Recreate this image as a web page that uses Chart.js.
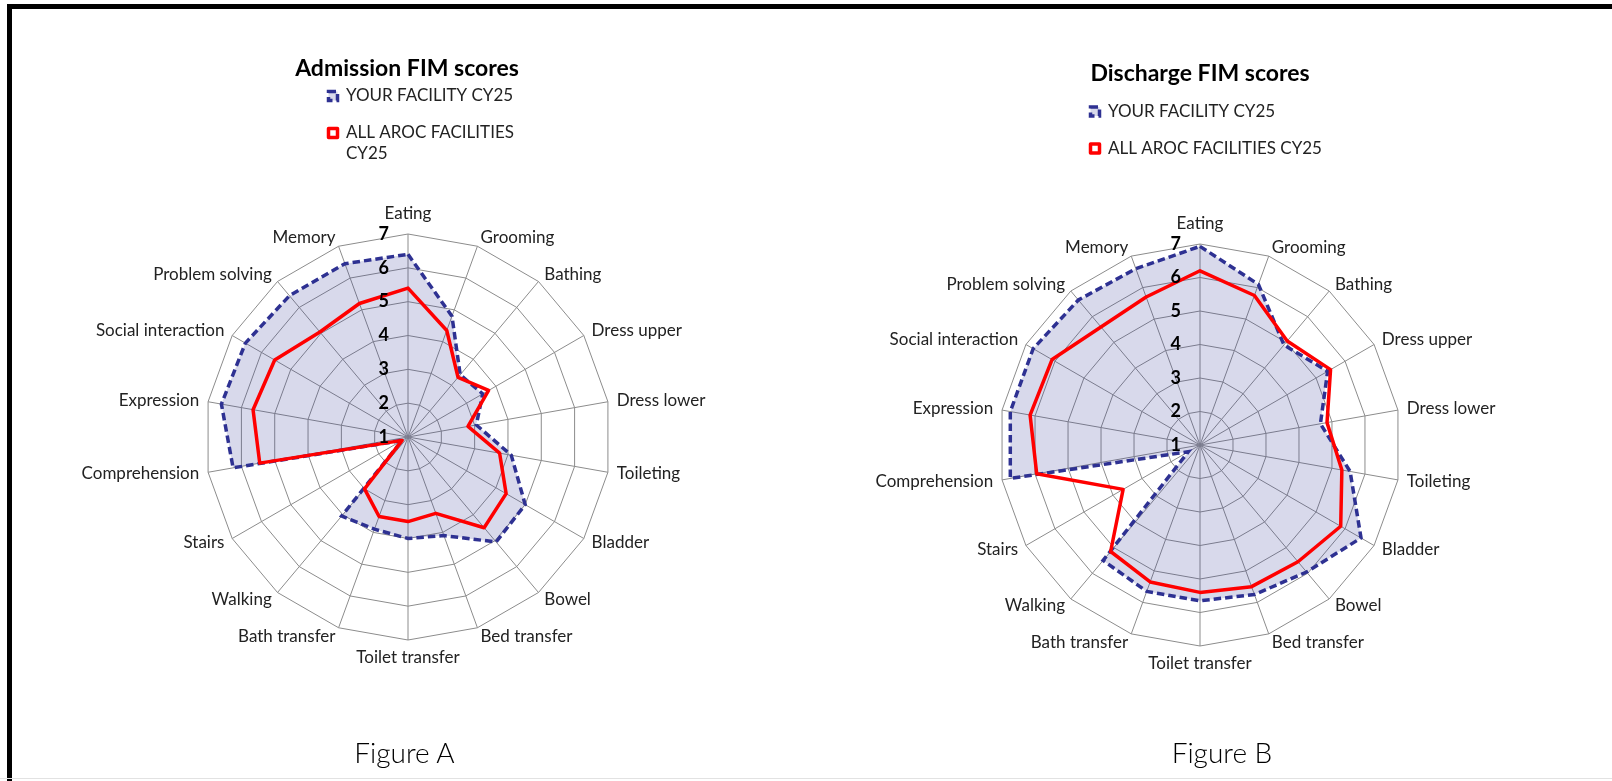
<!DOCTYPE html>
<html>
<head>
<meta charset="utf-8">
<script src="https://cdn.jsdelivr.net/npm/chart.js@4.4.1/dist/chart.umd.min.js"></script>
<style>
html,body{margin:0;padding:0;background:#fff;}
#page{position:relative;width:1612px;height:781px;overflow:hidden;background:#fff;}
#frameTop{position:absolute;left:7px;top:4px;width:1605px;height:4.5px;background:#000;}
#frameLeft{position:absolute;left:7px;top:4px;width:4.5px;height:777px;background:#000;}
#frameBottom{position:absolute;left:0;top:778px;width:1612px;height:1px;background:#e2e2e2;}
canvas{position:absolute;top:0;}
.cap{position:absolute;top:738px;height:28px;line-height:28px;font-family:Lato,"Noto Sans",sans-serif;font-weight:300;font-size:28px;color:#000;white-space:nowrap;transform:translateX(-50%);}
</style>
</head>
<body>
<div id="page">
  <div id="frameTop"></div>
  <div id="frameLeft"></div>
  <div id="frameBottom"></div>
  <canvas id="chartA" width="806" height="781" style="left:0px;width:806px;height:781px;"></canvas>
  <canvas id="chartB" width="806" height="781" style="left:806px;width:806px;height:781px;"></canvas>
  <div class="cap" id="capA"></div>
  <div class="cap" id="capB"></div>
</div>
<script>
// ---------------- DATA ----------------
const categories = ['Eating','Grooming','Bathing','Dress upper','Dress lower','Toileting','Bladder','Bowel','Bed transfer','Toilet transfer','Bath transfer','Walking','Stairs','Comprehension','Expression','Social interaction','Problem solving','Memory'];
const tickLabels = ['1','2','3','4','5','6','7'];
const seriesNames = ['YOUR FACILITY CY25','ALL AROC FACILITIES CY25'];
const chartTitles = ['Admission FIM scores','Discharge FIM scores'];
const figureCaptions = ['Figure A','Figure B'];

const admissionFacility = [6.4,4.8,3.4,3.55,3.05,4.1,5.0,5.05,4.1,4.0,3.9,4.05,1.2,6.25,6.6,6.55,6.45,6.45];
const admissionAll      = [5.4,4.35,3.3,3.75,2.8,3.75,4.35,4.5,3.4,3.5,3.5,3.0,1.2,5.45,5.65,5.55,5.05,5.2];
const dischargeFacility = [6.93,6.1,4.9,5.4,4.65,5.55,6.55,5.95,5.75,5.65,5.65,5.5,1.4,6.75,6.75,6.75,6.65,6.6];
const dischargeAll      = [6.2,5.75,5.05,5.5,4.85,5.3,5.85,5.55,5.5,5.4,5.35,5.15,3.65,5.95,6.15,6.1,5.6,5.7];

// ---------------- STYLE / LAYOUT ----------------
const FONT = 'Lato, "Noto Sans", sans-serif';
Chart.defaults.font.family = FONT;
const LEGEND_PAD = 20;
const TITLE_SIZE = 23;
const LABEL_SIZE = 17;
const TICK_SIZE = 18;

const layouts = [
  {left: 0,   cx: 408,  cy: 437, r: 203, titleX: 407,  titleY: 68.5, legendX: 328.5,  legendY: 87.5, legendWrap: 180, capX: 404.5},
  {left: 806, cx: 1200, cy: 445, r: 201, titleX: 1200, titleY: 73.7, legendX: 1090.5, legendY: 103,  legendWrap: 0,   capX: 1222}
];
const labelGeom = {pad: 9, topGap: 20, botGap: 18};

function wrapText(text, maxW) {
  if (!maxW) return text;
  const c = document.createElement('canvas').getContext('2d');
  c.font = LABEL_SIZE + 'px ' + FONT;
  const words = text.split(' ');
  const lines = [];
  let cur = '';
  words.forEach(w => {
    const t = cur ? cur + ' ' + w : w;
    if (c.measureText(t).width > maxW && cur) { lines.push(cur); cur = w; }
    else cur = t;
  });
  lines.push(cur);
  return lines.length > 1 ? lines : text;
}

function placeScale(scale, L) {
  scale.xCenter = L.cx - L.left;
  scale.yCenter = L.cy;
  scale.drawingArea = L.r;
  const n = scale._pointLabels.length;
  const lh = LABEL_SIZE * 1.2;
  const items = [];
  for (let i = 0; i < n; i++) {
    const deg = i * 360 / n;
    const p = scale.getPointPosition(i, L.r + labelGeom.pad);
    let ymid, align;
    if (Math.abs(deg) < 0.01) { align = 'center'; ymid = scale.yCenter - L.r - labelGeom.topGap; }
    else if (Math.abs(deg - 180) < 0.01) { align = 'center'; ymid = scale.yCenter + L.r + labelGeom.botGap; }
    else { align = deg < 180 ? 'left' : 'right'; ymid = p.y; }
    items.push({visible: true, x: p.x, y: ymid - lh / 2, textAlign: align,
                left: p.x, right: p.x, top: ymid - lh / 2, bottom: ymid + lh / 2});
  }
  scale._pointLabelItems = items;
}

// value-axis labels beside the vertical axis
const sideTicks = {
  id: 'sideTicks',
  afterDatasetsDraw(chart) {
    const s = chart.scales.r, ctx = chart.ctx;
    ctx.save();
    ctx.font = 'bold ' + TICK_SIZE + 'px ' + FONT;
    ctx.fillStyle = '#000';
    ctx.textAlign = 'right';
    ctx.textBaseline = 'middle';
    tickLabels.forEach(t => {
      const d = s.getDistanceFromCenterForValue(Number(t));
      ctx.fillText(t, s.xCenter - 19, s.yCenter - d);
    });
    ctx.restore();
  }
};

function makePlacer(L) {
  return {
    id: 'placer',
    afterLayout(chart) {
      const t = chart.titleBlock;
      if (t) {
        const lh = TITLE_SIZE * 1.2;
        const tc = L.titleX - L.left;
        t.left = tc - 250; t.right = tc + 250; t.width = 500;
        t.top = L.titleY - lh / 2; t.bottom = t.top + lh; t.height = lh;
      }
      const lg = chart.legend;
      if (lg) {
        lg.left = L.legendX - L.left - LEGEND_PAD; lg.right = lg.left + 400; lg.width = 400;
        lg.top = L.legendY - LEGEND_PAD; lg.bottom = lg.top + 200; lg.height = 200;
      }
    }
  };
}

function makeChart(id, idx, facility, all) {
  const L = layouts[idx];
  return new Chart(document.getElementById(id), {
    type: 'radar',
    data: {
      labels: categories,
      datasets: [
        {label: seriesNames[0], data: facility, order: 1, fill: true,
         borderColor: '#2E3192', backgroundColor: 'rgba(50,55,150,0.19)',
         borderWidth: 3.5, borderDash: [7.5, 4], borderJoinStyle: 'miter',
         pointRadius: 0, pointHoverRadius: 0, clip: false},
        {label: seriesNames[1], data: all, order: 0, fill: false,
         borderColor: '#FF0000', backgroundColor: '#ffffff',
         borderWidth: 3.5, borderJoinStyle: 'round',
         pointRadius: 0, pointHoverRadius: 0, clip: false}
      ]
    },
    options: {
      responsive: false, maintainAspectRatio: false, animation: false, events: [],
      layout: {padding: 0},
      elements: {line: {tension: 0}},
      scales: {
        r: {
          min: 1, max: 7,
          ticks: {display: false, stepSize: 1},
          grid: {color: '#8c8c8c', lineWidth: 1, circular: false},
          angleLines: {color: '#8c8c8c', lineWidth: 1},
          pointLabels: {display: true, color: '#222', font: {family: FONT, size: LABEL_SIZE}},
          afterFit: (scale) => placeScale(scale, L)
        }
      },
      plugins: {
        tooltip: {enabled: false},
        title: {display: true, text: chartTitles[idx], color: '#000',
                font: {family: FONT, size: TITLE_SIZE, weight: 'bold', lineHeight: 1.2},
                padding: 0},
        legend: {
          display: true, position: 'chartArea', align: 'start',
          labels: {
            boxWidth: 9, boxHeight: 9, padding: LEGEND_PAD, color: '#222',
            font: {family: FONT, size: LABEL_SIZE},
            generateLabels(chart) {
              const items = Chart.defaults.plugins.legend.labels.generateLabels(chart);
              items.sort((a, b) => a.datasetIndex - b.datasetIndex);
              items.forEach(it => { it.text = wrapText(seriesNames[it.datasetIndex], L.legendWrap); });
              return items;
            }
          }
        }
      }
    },
    plugins: [makePlacer(L), sideTicks]
  });
}

makeChart('chartA', 0, admissionFacility, admissionAll);
makeChart('chartB', 1, dischargeFacility, dischargeAll);

const capA = document.getElementById('capA');
capA.textContent = figureCaptions[0]; capA.style.left = layouts[0].capX + 'px';
const capB = document.getElementById('capB');
capB.textContent = figureCaptions[1]; capB.style.left = layouts[1].capX + 'px';
</script>
</body>
</html>
